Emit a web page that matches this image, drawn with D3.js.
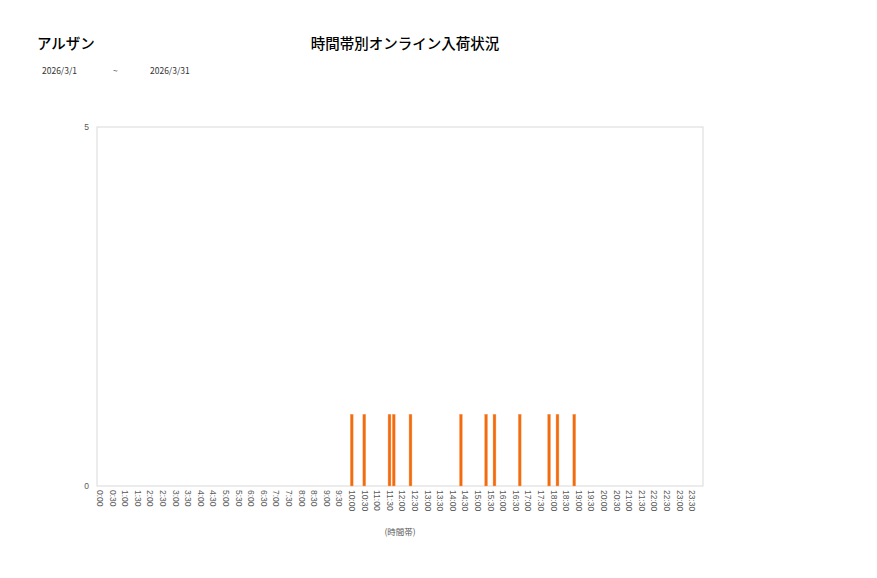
<!DOCTYPE html>
<html>
<head>
    <meta charset="utf-8">
    <style>
        body {
            margin: 0;
            background: #fff;
            font-family: 'Noto Sans CJK JP', 'Noto Sans', sans-serif;
        }
        svg {
            display: block;
        }
        .axis text {
            fill: #595959;
            font-size: 8.5px;
        }
    </style>
</head>
<body>
    <svg width="877" height="578"></svg>
</body>
<script src="https://d3js.org/d3.v7.min.js"></script>
<script>
    // 10-minute bins over a day, label every 30 min
    let slots = d3.range(0, 24 * 60, 10).map(m => Math.floor(m / 60) + ":" + String(m % 60).padStart(2, "0"))
    let tickLabels = slots.filter((d, i) => i % 3 == 0)
    let arrivalSlots = ["10:00", "10:30", "11:30", "11:40", "12:20", "14:20", "15:20", "15:40", "16:40", "17:50", "18:10", "18:50"]
    let arrivalCounts = [1, 1, 1, 1, 1, 1, 1, 1, 1, 1, 1, 1]
    let yTicks = [0, 5]

    let svg = d3.select("svg")
    let margin = { top: 127, right: 174, bottom: 92, left: 97 }
    let width = 877 - margin.left - margin.right
    let height = 578 - margin.top - margin.bottom

    // header texts
    svg.append("text")
        .attr("x", 37).attr("y", 49)
        .attr("font-size", 14.5).attr("font-weight", 500)
        .text("アルザン")
    svg.append("text")
        .attr("x", 405).attr("y", 49)
        .attr("text-anchor", "middle")
        .attr("font-size", 14.5).attr("font-weight", 500)
        .text("時間帯別オンライン入荷状況")
    svg.append("text").attr("x", 42).attr("y", 74).attr("font-size", 8.5).attr("fill", "#333").text("2026/3/1")
    svg.append("text").attr("x", 113).attr("y", 74).attr("font-size", 8.5).attr("fill", "#333").text("~")
    svg.append("text").attr("x", 150).attr("y", 74).attr("font-size", 8.5).attr("fill", "#333").text("2026/3/31")

    let g = svg.append("g").attr("transform", `translate(${margin.left},${margin.top})`)

    let x = d3.scaleBand().domain(slots).range([0, width]).padding(0.3)
    let y = d3.scaleLinear().domain([0, 5]).range([height, 0])

    g.append("rect")
        .attr("width", width).attr("height", height)
        .attr("fill", "none")
        .attr("stroke", "#d9d9d9")

    let xAxis = g.append("g")
        .attr("class", "axis")
        .attr("transform", `translate(0,${height})`)
        .call(d3.axisBottom(x).tickValues(tickLabels).tickSize(0))
    xAxis.select(".domain").remove()
    xAxis.selectAll("text")
        .attr("transform", "rotate(90)")
        .attr("text-anchor", "start")
        .attr("x", 4)
        .attr("y", 0)
        .attr("dy", "0.32em")

    let yAxis = g.append("g")
        .attr("class", "axis")
        .call(d3.axisLeft(y).tickValues(yTicks).tickFormat(d3.format("d")).tickSize(0).tickPadding(8))
    yAxis.select(".domain").remove()

    g.append("g")
        .selectAll("rect")
        .data(arrivalSlots)
        .join("rect")
        .attr("x", d => x(d))
        .attr("width", x.bandwidth())
        .attr("y", (d, i) => y(arrivalCounts[i]))
        .attr("height", (d, i) => height - y(arrivalCounts[i]))
        .attr("fill", "#f26b0f")
        .attr("stroke", "#f9b07a")
        .attr("stroke-width", 0.4)

    svg.append("text")
        .attr("x", margin.left + width / 2).attr("y", 535)
        .attr("text-anchor", "middle")
        .attr("font-size", 8.5)
        .attr("fill", "#595959")
        .text("(時間帯)")
</script>
</html>
